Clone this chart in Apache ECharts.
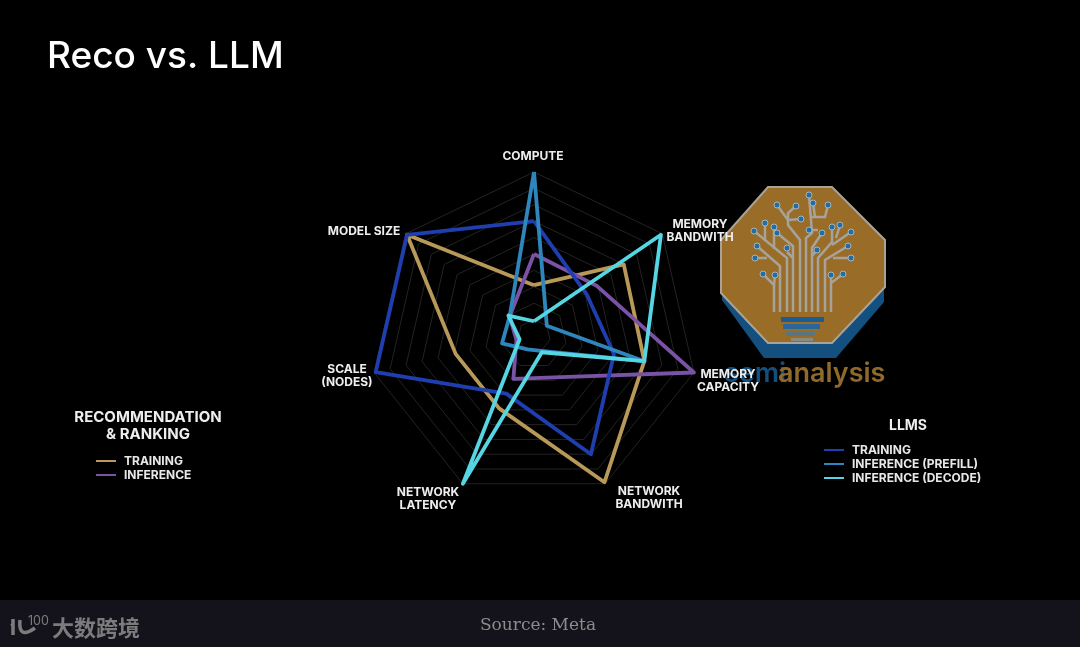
<!DOCTYPE html>
<html>
<head>
    <meta charset="utf-8" />
    <title>Reco vs. LLM</title>
    <script src="https://cdn.jsdelivr.net/npm/echarts@6/dist/echarts.min.js"></script>
    <style type="text/css">
        * { margin: 0; padding: 0; box-sizing: border-box; }
        html, body { width: 100%; height: 100%; background: #000; }
        #chart { width: 1080px; height: 647px; }
    </style>
</head>
<body>
    <div id="chart"></div>
<script type="text/javascript">
    // counter-clockwise from the top, the way the radar lays them out
    var axisNames = ['COMPUTE', 'MODEL SIZE', 'SCALE\n(NODES)', 'NETWORK\nLATENCY', 'NETWORK\nBANDWITH', 'MEMORY\nCAPACITY', 'MEMORY\nBANDWITH'];

    // values follow axisNames, 1 = outer ring
    var recoTraining = [0.31, 0.99, 0.49, 0.49, 0.99, 0.69, 0.70];
    var recoInference = [0.50, 0.19, 0.11, 0.29, 0.28, 1.00, 0.49];
    var llmTraining = [0.70, 0.99, 0.99, 0.39, 0.80, 0.50, 0.41];
    var llmPrefill = [1.00, 0.19, 0.20, 0.09, 0.10, 0.69, 0.10];
    var llmDecode = [0.09, 0.20, 0.09, 1.00, 0.11, 0.69, 0.99];

    var gold = '#b8995a', purple = '#7a52a6', navy = '#1f3fb0', midBlue = '#2f86bd', cyan = '#55d6e2';
    var sans = 'Inter, "Open Sans", sans-serif';

    // the axis names sit by hand in the original, radar's own placement can't do it
    var axisNameSpots = [[533, 156], [364, 231], [347, 376], [428, 499], [649, 498], [728, 381], [700, 231]];

    // legend entries share words, so keep the printed text apart from the key
    var legendText = {
        recoTraining: 'TRAINING',
        recoInference: 'INFERENCE',
        llmTraining: 'TRAINING',
        llmPrefill: 'INFERENCE (PREFILL)',
        llmDecode: 'INFERENCE (DECODE)'
    };

    function makeItem(name, values, color) {
        return { name: name, value: values, lineStyle: { color: color, width: 3.8 }, itemStyle: { color: color } };
    }

    function makeLegend(names, left, top) {
        return {
            data: names.map(function (n) { return { name: n, icon: 'rect' }; }),
            orient: 'vertical',
            left: left,
            top: top,
            itemWidth: 20,
            itemHeight: 2,
            itemGap: 2,
            selectedMode: false,
            formatter: function (n) { return legendText[n]; },
            textStyle: { color: '#e8e8e8', fontFamily: sans, fontWeight: 700, fontSize: 12, padding: [0, 0, 0, 3] }
        };
    }

    function boldText(text, x, y, size, lineHeight) {
        return {
            type: 'text', x: x, y: y, z: 5,
            style: { text: text, fill: '#eeeeee', font: '700 ' + size + 'px ' + sans, align: 'center', verticalAlign: 'middle', lineHeight: lineHeight }
        };
    }

    function axisNameGraphic() {
        return axisNames.map(function (n, i) {
            return boldText(n, axisNameSpots[i][0], axisNameSpots[i][1], 12, 13.5);
        });
    }

    // logo branches and their end dots
    var logoBranches = [
        [[774, 312], [774, 285], [763, 274]],
        [[774, 285], [775, 275]],
        [[780, 312], [780, 266], [757, 246]],
        [[755, 258], [767, 258]],
        [[787, 312], [787, 258], [754, 231]],
        [[765, 223], [765, 241]],
        [[774, 227], [774, 249]],
        [[793, 312], [793, 246], [777, 233]],
        [[787, 252], [793, 258]],
        [[800, 312], [800, 240], [788, 225], [788, 213], [796, 206]],
        [[777, 205], [788, 220]],
        [[788, 220], [801, 219]],
        [[806, 312], [806, 238], [812, 233], [809, 195]],
        [[810, 217], [825, 217], [828, 205]],
        [[813, 203], [815, 217]],
        [[812, 312], [812, 248], [822, 233]],
        [[809, 230], [818, 230]],
        [[818, 312], [818, 258], [832, 242], [832, 227]],
        [[840, 225], [836, 238]],
        [[832, 245], [851, 232]],
        [[825, 312], [825, 260], [848, 246]],
        [[851, 258], [833, 258]],
        [[831, 312], [831, 283], [843, 274]],
        [[831, 283], [831, 275]],
        [[817, 250], [812, 256]]
    ];
    var logoDots = [[763, 274], [775, 275], [757, 246], [755, 258], [754, 231], [765, 223], [774, 227], [777, 233], [787, 248],
        [796, 206], [777, 205], [801, 219], [809, 195], [828, 205], [813, 203], [822, 233], [809, 230], [832, 227], [840, 225],
        [851, 232], [848, 246], [851, 258], [831, 275], [843, 274], [817, 250]];
    var logoBars = [[781, 317, 43, 5, '#1a5c94'], [783, 324, 37, 5, '#2a6796'], [786, 332, 29, 4, '#5c7382'], [791, 338, 22, 3, '#8a8a82']];

    function logoGraphic() {
        var els = [
            { type: 'polygon', shape: { points: [[768, 200], [832, 200], [884, 252], [884, 302], [836, 358], [764, 358], [722, 300], [722, 252]] }, style: { fill: '#14507f' } },
            { type: 'polygon', shape: { points: [[768, 187], [832, 187], [885, 240], [885, 287], [832, 343], [768, 343], [721, 293], [721, 240]] }, style: { fill: '#996d28', stroke: '#a9a397', lineWidth: 2 } }
        ];
        logoBranches.forEach(function (b) {
            els.push({ type: 'polyline', shape: { points: b }, style: { stroke: '#a8a39a', lineWidth: 2.5, fill: null } });
        });
        logoDots.forEach(function (d) {
            els.push({ type: 'circle', shape: { cx: d[0], cy: d[1], r: 3 }, style: { fill: '#1f6ea8', stroke: '#a8b4b8', lineWidth: 1 } });
        });
        logoBars.forEach(function (r) {
            els.push({ type: 'rect', shape: { x: r[0], y: r[1], width: r[2], height: r[3] }, style: { fill: r[4] } });
        });
        els.push({ type: 'text', x: 724, y: 374, style: { text: 'semi', fill: '#14507f', font: '600 27px ' + sans, verticalAlign: 'middle' } });
        els.push({ type: 'text', x: 778, y: 374, style: { text: 'analysis', fill: '#8f6a2a', font: '600 27px ' + sans, verticalAlign: 'middle' } });
        return els;
    }

    var footer = [
        { type: 'rect', shape: { x: 0, y: 600, width: 1080, height: 47 }, style: { fill: '#14131c' } },
        { type: 'text', x: 538, y: 626, style: { text: 'Source: Meta', fill: '#8c8c8c', font: '17px "DejaVu Serif", serif', align: 'center', verticalAlign: 'middle' } },
        { type: 'text', x: 52, y: 628, style: { text: '大数跨境', fill: '#7c7c7c', font: '700 22px "Noto Sans CJK SC"', verticalAlign: 'middle' } },
        { type: 'text', x: 28, y: 621, style: { text: '100', fill: '#7c7c7c', font: '12.5px ' + sans, verticalAlign: 'middle' } },
        { type: 'polyline', shape: { points: [[13, 619], [13, 635]] }, style: { stroke: '#7c7c7c', lineWidth: 3.5 } },
        { type: 'polyline', shape: { points: [[11, 624], [14, 628]] }, style: { stroke: '#7c7c7c', lineWidth: 2 } },
        { type: 'bezierCurve', shape: { x1: 20, y1: 620, cpx1: 18, cpy1: 640, x2: 35, y2: 628 }, style: { stroke: '#7c7c7c', lineWidth: 3.5, fill: null } }
    ];

    var chart = echarts.init(document.getElementById('chart'));
    chart.setOption({
        backgroundColor: '#000000',
        animation: false,
        title: {
            text: 'Reco vs. LLM',
            left: 42,
            top: 33,
            textStyle: { color: '#ffffff', fontFamily: sans, fontWeight: 500, fontSize: 37 }
        },
        legend: [
            makeLegend(['recoTraining', 'recoInference'], 91, 450),
            makeLegend(['llmTraining', 'llmPrefill', 'llmDecode'], 819, 439)
        ],
        radar: {
            center: [534, 336],
            radius: 164,
            startAngle: 90,
            splitNumber: 10,
            shape: 'polygon',
            indicator: axisNames.map(function (n) { return { name: n, min: 0, max: 1 }; }),
            axisName: { show: false },
            axisLine: { show: false },
            axisTick: { show: false },
            splitArea: { show: false },
            splitLine: { lineStyle: { color: '#232323', width: 1 } }
        },
        series: [{
            type: 'radar',
            symbol: 'none',
            data: [
                makeItem('recoTraining', recoTraining, gold),
                makeItem('recoInference', recoInference, purple),
                makeItem('llmTraining', llmTraining, navy),
                makeItem('llmPrefill', llmPrefill, midBlue),
                makeItem('llmDecode', llmDecode, cyan)
            ]
        }],
        graphic: { elements: logoGraphic().map(function (e) { e.z = -1; e.silent = true; return e; })
            .concat(footer)
            .concat(axisNameGraphic())
            .concat([boldText('RECOMMENDATION\n& RANKING', 148, 426, 15, 17), boldText('LLMS', 908, 426, 14, 16)]) }
    });
</script>
</body>
</html>
